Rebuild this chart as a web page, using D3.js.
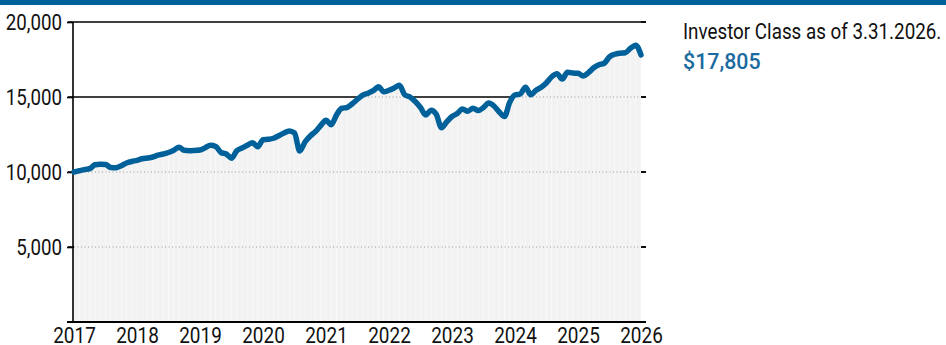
<!DOCTYPE html>
<html>
<head>
<meta charset="utf-8">
<script src="https://cdn.jsdelivr.net/npm/d3@7/dist/d3.min.js"></script>
<style>
  html, body { margin: 0; padding: 0; background: #fff; }
  svg { display: block; }
  text { font-family: Roboto, "Noto Sans", sans-serif; }
</style>
</head>
<body>
<svg id="chart" width="946" height="345"></svg>
<script>
// Growth of $10,000, month-end values from the start of 2017 through 3.31.2026
const startYear = 2017;
const monthlyValues = [
  10000, 10080, 10160, 10220, 10480, 10520, 10500, 10300, 10280, 10420, 10600, 10700,
  10780, 10880, 10930, 11000, 11120, 11200, 11300, 11450, 11650, 11450, 11420, 11440,
  11460, 11620, 11780, 11700, 11300, 11200, 10920, 11420, 11600, 11780, 11950, 11680,
  12150, 12180, 12250, 12420, 12600, 12740, 12600, 11400, 12000, 12400, 12700, 13100,
  13450, 13150, 13800, 14250, 14300, 14550, 14850, 15130, 15250, 15420, 15680, 15350,
  15450, 15600, 15780, 15150, 15000, 14700, 14300, 13800, 14120, 13850, 12950, 13350,
  13700, 13900, 14200, 14050, 14250, 14100, 14300, 14600, 14400, 14000, 13700, 14650,
  15130, 15200, 15650, 15150, 15450, 15650, 15950, 16350, 16550, 16200, 16650, 16600,
  16580, 16400, 16620, 16950, 17150, 17250, 17680, 17850, 17920, 17950, 18250, 18450,
  17805
];
const yearTicks = [2017, 2018, 2019, 2020, 2021, 2022, 2023, 2024, 2025, 2026];
const valueTicks = [5000, 10000, 15000, 20000];
const legendTitle = "Investor Class as of 3.31.2026.";
const legendValue = "$17,805";

const blue = "#00609a";
const svg = d3.select("#chart");

const plot = { left: 74, right: 641, top: 22, bottom: 322 };
const x = d3.scaleLinear().domain([startYear, 2026]).range([plot.left, plot.right]);
const y = d3.scaleLinear().domain([0, 20000]).range([plot.bottom, plot.top]);

const points = monthlyValues.map((v, i) => ({ t: startYear + i / 12, v }));

// banner strip across the top
svg.append("rect").attr("x", 0).attr("y", 0).attr("width", 946).attr("height", 5).attr("fill", blue);

// solid gridlines (hidden under the shaded area)
svg.append("g").selectAll("line").data(valueTicks).join("line")
  .attr("x1", plot.left - 6).attr("x2", plot.right + 5)
  .attr("y1", d => y(d)).attr("y2", d => y(d))
  .attr("stroke", "#000").attr("stroke-width", 1.6);

// shaded area under the line
const area = d3.area().x(d => x(d.t)).y0(y(0)).y1(d => y(d.v)).curve(d3.curveMonotoneX);
svg.append("clipPath").attr("id", "areaClip").append("path").attr("d", area(points));
svg.append("path").attr("d", area(points)).attr("fill", "#f2f2f2");

const shaded = svg.append("g").attr("clip-path", "url(#areaClip)");
// faint vertical striping in the shaded area
shaded.selectAll("line.stripe").data(points.slice(1)).join("line")
  .attr("class", "stripe")
  .attr("x1", d => x(d.t)).attr("x2", d => x(d.t))
  .attr("y1", y(0)).attr("y2", plot.top)
  .attr("stroke", "#fbfbfb").attr("stroke-width", 0.7);
// dotted gridlines inside the shaded area
shaded.selectAll("line.grid").data(valueTicks).join("line")
  .attr("class", "grid")
  .attr("x1", plot.left).attr("x2", plot.right)
  .attr("y1", d => y(d)).attr("y2", d => y(d))
  .attr("stroke", "#b8b8b8").attr("stroke-width", 1.4)
  .attr("stroke-dasharray", "1,2.5");

// right-hand tick marks
svg.append("g").selectAll("line").data(valueTicks).join("line")
  .attr("x1", plot.right).attr("x2", plot.right + 5)
  .attr("y1", d => y(d)).attr("y2", d => y(d))
  .attr("stroke", "#000").attr("stroke-width", 1.6);

// left axis
const yAxis = d3.axisLeft(y).tickValues(valueTicks).tickSize(6).tickFormat(d3.format(","));
const gy = svg.append("g").attr("transform", `translate(${plot.left - 1},0)`).call(yAxis);
gy.select(".domain").attr("d", `M0,${plot.top}V${plot.bottom}`).attr("stroke", "#000").attr("stroke-width", 1.6);
gy.selectAll(".tick line").attr("stroke", "#000").attr("stroke-width", 1.6);
gy.selectAll(".tick text")
  .attr("x", null).attr("dy", null)
  .attr("font-size", 22).attr("fill", "#111")
  .attr("transform", "translate(-11,7.5) scale(0.85,1)");

// bottom axis
const xAxis = d3.axisBottom(x).tickValues(yearTicks).tickSize(0).tickFormat(d3.format("d"));
const gx = svg.append("g").attr("transform", `translate(0,${plot.bottom})`).call(xAxis);
gx.select(".domain").attr("d", `M${plot.left - 7},0H${plot.right + 5}`).attr("stroke", "#000").attr("stroke-width", 2);
gx.selectAll(".tick text")
  .attr("y", null).attr("dy", null)
  .attr("font-size", 21.5).attr("fill", "#111")
  .attr("transform", "translate(0,20.5) scale(0.88,1)");

// value line
const line = d3.line().x(d => x(d.t)).y(d => y(d.v)).curve(d3.curveMonotoneX);
svg.append("path").attr("d", line(points))
  .attr("fill", "none").attr("stroke", blue).attr("stroke-width", 5.5)
  .attr("stroke-linejoin", "round").attr("stroke-linecap", "round");

// legend
svg.append("text").text(legendTitle)
  .attr("font-size", 22).attr("fill", "#111")
  .attr("transform", "translate(683,39) scale(0.855,1)");
svg.append("text").text(legendValue)
  .attr("font-size", 23).attr("font-weight", 500).attr("fill", "#1b6b9f")
  .attr("transform", "translate(683,69) scale(0.93,1)");
</script>
</body>
</html>
